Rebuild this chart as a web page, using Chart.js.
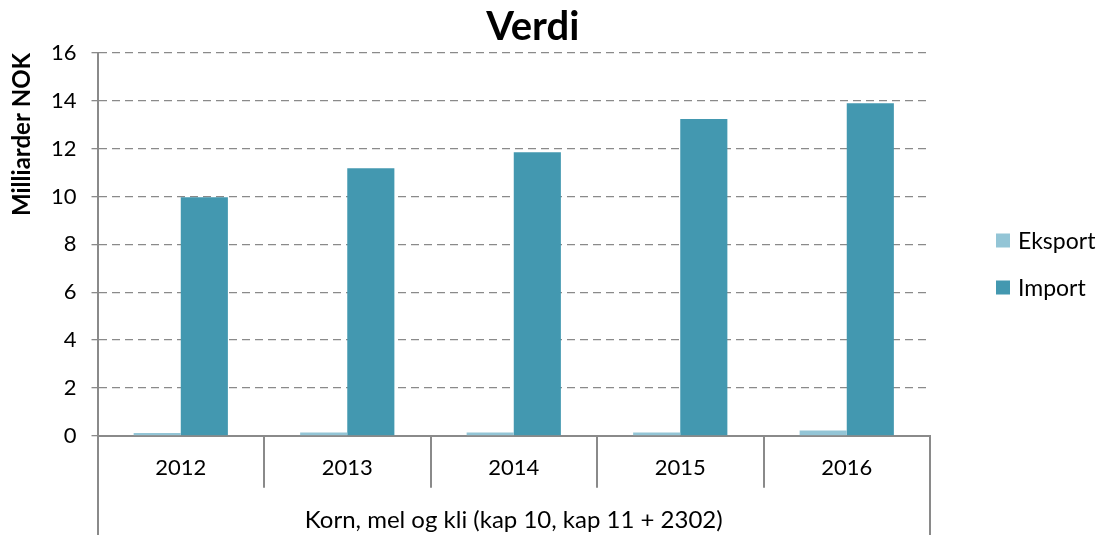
<!DOCTYPE html>
<html>
<head>
<meta charset="utf-8">
<script src="https://cdn.jsdelivr.net/npm/chart.js@4/dist/chart.umd.min.js"></script>
<style>
    html, body { margin: 0; padding: 0; background: #fff; }
    #wrap { width: 1106px; height: 535px; }
</style>
</head>
<body>
<div id="wrap"><canvas id="verdiChart"></canvas></div>
<script>
// data (milliarder NOK)
const years = ['2012', '2013', '2014', '2015', '2016'];
const eksport = [0.12, 0.14, 0.14, 0.14, 0.22];
const importVals = [9.97, 11.18, 11.85, 13.24, 13.9];
const chartTitle = 'Verdi';
const groupLabel = 'Korn, mel og kli (kap 10, kap 11 + 2302)';

const FONT = 'Lato, Carlito, "Noto Sans", sans-serif';
const AXIS_GREY = '#8a8a8a';

// title, category separators under the x axis and the legend on the right
const extras = {
    id: 'extras',
    afterDraw(chart) {
        const x = chart.scales.x;
        const area = chart.chartArea;
        const c = chart.ctx;
        const step = x.width / years.length;
        c.save();
        c.strokeStyle = AXIS_GREY;
        c.lineWidth = 2;
        for (let i = 0; i <= years.length; i++) {
            const px = Math.round(x.getPixelForValue(i) - step / 2);
            const outer = i === 0 || i === years.length;
            c.beginPath();
            c.moveTo(px, area.bottom);
            c.lineTo(px, outer ? chart.height : area.bottom + 52);
            c.stroke();
        }

        // title (sits a bit right of the plot centre, like the original)
        c.fillStyle = '#000';
        c.font = 'bold 40px ' + FONT;
        c.textAlign = 'center';
        c.textBaseline = 'alphabetic';
        c.fillText(chartTitle, (area.left + area.right) / 2 + 19, 40);

        // legend
        c.font = '23px ' + FONT;
        c.textAlign = 'left';
        c.textBaseline = 'middle';
        const lx = area.right + 66;
        chart.data.datasets.forEach((ds, i) => {
            const cy = chart.height / 2 - 27 + i * 47;
            c.fillStyle = ds.backgroundColor;
            c.fillRect(lx, cy - 7, 14, 14);
            c.fillStyle = '#000';
            c.fillText(ds.label, lx + 22, cy + 1);
        });
        c.restore();
    }
};

new Chart(document.getElementById('verdiChart'), {
    type: 'bar',
    data: {
        labels: years,
        datasets: [{
            label: 'Eksport',
            data: eksport,
            backgroundColor: '#93c5d6',
            categoryPercentage: 0.566,
            barPercentage: 1
        }, {
            label: 'Import',
            data: importVals,
            backgroundColor: '#4398b0',
            categoryPercentage: 0.566,
            barPercentage: 1
        }]
    },
    options: {
        responsive: true,
        maintainAspectRatio: false,
        animation: false,
        layout: { padding: { left: 10, right: 176, top: 53, bottom: 0 } },
        plugins: {
            legend: { display: false },
            tooltip: { enabled: false }
        },
        scales: {
            x: {
                grid: { display: false, drawTicks: false },
                border: { display: true, color: AXIS_GREY, width: 2 },
                ticks: {
                    color: '#000',
                    font: { family: FONT, size: 22 },
                    padding: 19
                },
                title: {
                    display: true,
                    text: groupLabel,
                    color: '#000',
                    font: { family: FONT, size: 24 },
                    padding: { top: 6, bottom: 0 }
                }
            },
            y: {
                min: 0,
                max: 16,
                ticks: {
                    stepSize: 2,
                    color: '#000',
                    font: { family: FONT, size: 22 },
                    padding: 15
                },
                grid: {
                    color: AXIS_GREY,
                    lineWidth: 1.3,
                    tickLength: 6,
                    tickColor: AXIS_GREY,
                    tickBorderDash: []
                },
                border: { display: true, color: AXIS_GREY, width: 2, dash: [8, 5] },
                title: {
                    display: true,
                    text: 'Milliarder NOK',
                    align: 'end',
                    color: '#000',
                    font: { family: FONT, size: 24, weight: 'bold', lineHeight: 1 },
                    padding: { top: 0, bottom: 2 }
                }
            }
        }
    },
    plugins: [extras]
});
</script>
</body>
</html>
